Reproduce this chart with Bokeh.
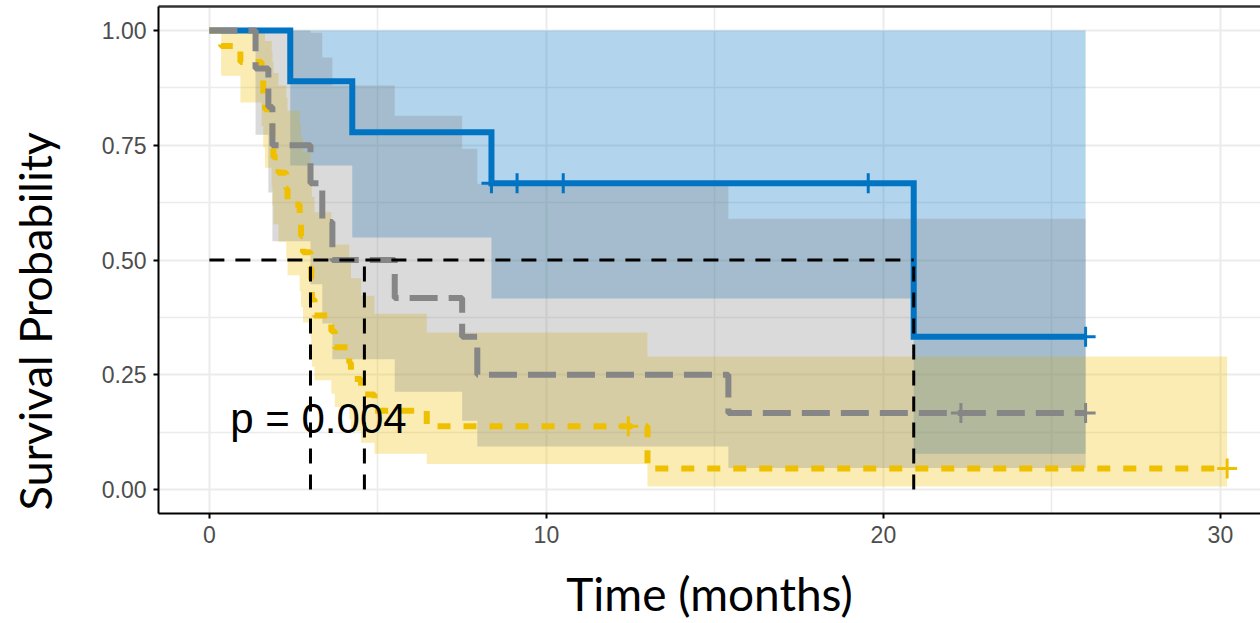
import math
from bokeh.plotting import figure
from bokeh.models import FixedTicker, Range1d, NumeralTickFormatter, Title, LinearAxis
from bokeh.embed import file_html
from bokeh.resources import INLINE
from bokeh.core.properties import value

# ---------------- data ----------------
blue_time  = [0, 2.4, 4.24, 8.37, 20.9, 26.0]
blue_surv  = [1.0, 0.889, 0.778, 0.667, 0.333, 0.333]
blue_lower = [1.0, 0.706, 0.549, 0.416, 0.078, 0.078]
blue_upper = [1.0, 1.0, 1.0, 1.0, 1.0, 1.0]
blue_cens_t = [8.37, 9.13, 10.5, 19.55, 26.0]
blue_cens_s = [0.667, 0.667, 0.667, 0.667, 0.333]

yellow_time  = [0, 0.35, 0.92, 1.55, 1.6, 1.65, 1.85, 1.87, 1.9, 2.05, 2.28, 2.32,
                2.68, 2.72, 2.78, 3.0, 3.02, 3.04, 3.12, 3.62, 3.72, 4.15, 4.2,
                4.5, 4.9, 6.45, 13.0, 30.2]
yellow_surv  = [1.0, 0.966, 0.931, 0.897, 0.862, 0.828, 0.793, 0.759, 0.724, 0.690,
                0.655, 0.621, 0.586, 0.552, 0.517, 0.483, 0.448, 0.414, 0.379,
                0.345, 0.310, 0.276, 0.241, 0.207, 0.172, 0.138, 0.046, 0.046]
yellow_lower = [1.0, 0.901, 0.843, 0.792, 0.745, 0.701, 0.659, 0.618, 0.578, 0.540,
                0.503, 0.467, 0.432, 0.397, 0.364, 0.331, 0.299, 0.268, 0.238,
                0.209, 0.180, 0.153, 0.127, 0.102, 0.078, 0.056, 0.007, 0.007]
yellow_upper = [1.0, 1.0, 1.0, 1.0, 0.997, 0.977, 0.955, 0.932, 0.907, 0.880,
                0.853, 0.825, 0.796, 0.766, 0.735, 0.704, 0.671, 0.638, 0.604,
                0.570, 0.534, 0.498, 0.460, 0.422, 0.383, 0.342, 0.290, 0.290]
yellow_cens_t = [12.43, 30.2]
yellow_cens_s = [0.138, 0.046]

grey_time  = [0, 1.37, 1.75, 1.87, 3.0, 3.35, 3.65, 5.5, 7.5, 7.95, 15.4, 26.0]
grey_surv  = [1.0, 0.917, 0.833, 0.75, 0.667, 0.583, 0.5, 0.417, 0.333, 0.25, 0.167, 0.167]
grey_lower = [1.0, 0.773, 0.647, 0.541, 0.447, 0.362, 0.284, 0.213, 0.150, 0.094, 0.047, 0.047]
grey_upper = [1.0, 1.0, 1.0, 1.0, 0.995, 0.941, 0.880, 0.814, 0.742, 0.666, 0.590, 0.590]
grey_cens_t = [22.3, 26.0]
grey_cens_s = [0.167, 0.167]

median_times = [3.0, 4.6, 20.9]
median_level = 0.5
pval_text = "p = 0.004"
x_ticks = [0, 10, 20, 30]
x_minor = [5, 15, 25]
y_ticks = [0, 0.25, 0.5, 0.75, 1.0]
y_minor = [0.125, 0.375, 0.625, 0.875]

BLUE = "#0073C2"
YELLOW = "#EFC000"
GREY = "#868686"

p = figure(frame_width=1102, frame_height=507, output_backend="svg", toolbar_location=None,
           x_range=Range1d(-1.51, 31.19), y_range=Range1d(-0.052, 1.052),
           min_border_left=158, min_border_right=0, min_border_top=6)

p.background_fill_color = "white"
p.border_fill_color = "white"
p.outline_line_color = None

xax = p.below[0]
yax = p.left[0]
xticker = FixedTicker(ticks=x_ticks, minor_ticks=x_minor)
yticker = FixedTicker(ticks=y_ticks, minor_ticks=y_minor)
xax.ticker = xticker
yax.ticker = yticker
p.xgrid.ticker = xticker
p.ygrid.ticker = yticker

# top panel border (the right one lies beyond the picture's edge)
top_axis = LinearAxis(ticker=FixedTicker(ticks=[]), axis_line_color="#333333",
                      axis_line_width=2.5, major_tick_line_color=None,
                      minor_tick_line_color=None)
p.add_layout(top_axis, "above")

# CI bands
p.varea_step(x=blue_time, y1=blue_lower, y2=blue_upper, step_mode="after",
             fill_color=BLUE, fill_alpha=0.3)
p.varea_step(x=yellow_time, y1=yellow_lower, y2=yellow_upper, step_mode="after",
             fill_color=YELLOW, fill_alpha=0.3)
p.varea_step(x=grey_time, y1=grey_lower, y2=grey_upper, step_mode="after",
             fill_color=GREY, fill_alpha=0.3)

# survival curves
p.step(x=blue_time, y=blue_surv, mode="after", line_color=BLUE, line_width=6,
       line_join="miter")
p.step(x=yellow_time, y=yellow_surv, mode="after", line_color=YELLOW, line_width=6,
       line_dash="13 13")
p.step(x=grey_time, y=grey_surv, mode="after", line_color=GREY, line_width=6,
       line_dash="28 11")

# censor marks
p.scatter(x=blue_cens_t, y=blue_cens_s, marker="cross", size=20, line_color=BLUE, line_width=3)
p.scatter(x=yellow_cens_t, y=yellow_cens_s, marker="cross", size=20, line_color=YELLOW, line_width=3)
p.scatter(x=grey_cens_t, y=grey_cens_s, marker="cross", size=20, line_color=GREY, line_width=3)

# median lines
p.segment(x0=[0], y0=[median_level], x1=[max(median_times)], y1=[median_level],
          line_color="black", line_width=3, line_dash="15 11")
p.segment(x0=median_times, y0=[0] * len(median_times), x1=median_times,
          y1=[median_level] * len(median_times),
          line_color="black", line_width=3, line_dash="15 11")

# p-value
p.text(x=[0.62], y=[0.155], text=[pval_text], text_font=value("Liberation Sans"),
       text_font_size="42px", text_color="black", text_align="left",
       text_baseline="alphabetic")

# axes styling
yax.formatter = NumeralTickFormatter(format="0.00")
for ax in (xax, yax):
    ax.axis_line_color = "black"
    ax.axis_line_width = 2
    ax.major_tick_line_color = "black"
    ax.major_tick_line_width = 2
    ax.major_tick_out = 5
    ax.major_tick_in = 0
    ax.minor_tick_line_color = None
    ax.major_label_text_color = "#4d4d4d"
    ax.major_label_text_font = "Liberation Sans"
    ax.major_label_text_font_size = "23px"
    ax.major_label_standoff = 7

xax.axis_label = "Time (months)"
xax.axis_label_text_font = "Lato"
xax.axis_label_text_font_size = "46px"
xax.axis_label_text_font_style = "normal"
xax.axis_label_text_color = "black"
xax.axis_label_standoff = 20

# spacer label on the y axis (invisible) to push the title outwards
yax.axis_label = "\u00a0"
yax.axis_label_text_font_size = "20px"
yax.axis_label_standoff = 7

for g in (p.xgrid, p.ygrid):
    g.grid_line_color = "#ebebeb"
    g.grid_line_width = 2
    g.minor_grid_line_color = "#ebebeb"
    g.minor_grid_line_width = 1.5

ytitle = Title(text="Survival Probability", align="left", offset=3,
               text_font="Lato", text_font_size="45px", text_font_style="normal",
               text_color="black")
p.add_layout(ytitle, "left")

open("out.html", "w").write(file_html(p, INLINE))
